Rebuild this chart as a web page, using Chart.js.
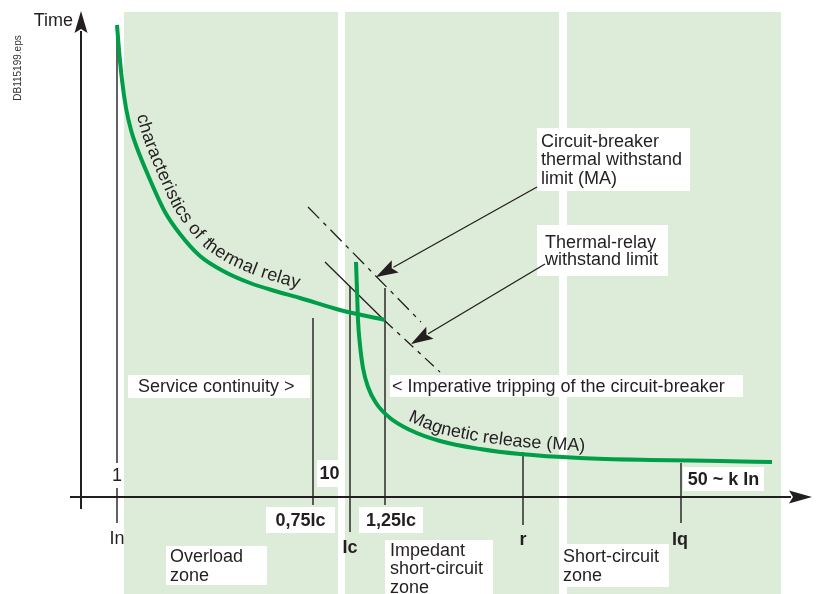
<!DOCTYPE html>
<html>
<head>
<meta charset="utf-8">
<script src="https://cdn.jsdelivr.net/npm/chart.js@4/dist/chart.umd.min.js"></script>
<style>
  html, body { margin: 0; padding: 0; background: #fff; }
  canvas { display: block; }
</style>
</head>
<body>
<canvas id="diagram" width="816" height="594"></canvas>
<script>
// Schematic values (x = relative current, y = relative time)
const zoneNames = ['Overload zone', 'Impedant short-circuit zone', 'Short-circuit zone'];
const zoneStart = [43, 264, 486];
const zoneEnd = [257, 478, 700];
const zoneTop = 485;

const markerNames = ['In', '0,75Ic', 'Ic', '1,25Ic', 'r', 'Iq'];
const markerX = [36, 232, 269, 304, 442, 600];
const markerTop = [472, 179, 211, 209, 45, 34];
const markerBottom = [-26, -8, -35, -8, -28, -26];

const multipleLabels = ['1', '10', '50 ~ k In'];

// characteristics of thermal relay
const thermalX = [36, 38, 41, 45, 50, 56, 67, 84, 99, 119, 144, 169, 194, 219, 259, 304];
const thermalY = [472, 447, 417, 389, 367, 349, 322, 285, 263, 241, 225, 214, 206, 199, 187, 177];

// magnetic release (MA)
const magneticX = [275, 276, 277, 279, 282, 287, 295, 309, 329, 359, 399, 439, 499, 569, 639, 691];
const magneticY = [235, 207, 177, 152, 129, 110, 94, 79, 67, 56, 48, 43, 39, 37, 36, 35];

// withstand limits (dash-dot lines)
const breakerLimitX = [227, 340];
const breakerLimitY = [290, 175];
const relayLimitX = [244, 303, 359];
const relayLimitY = [235, 177, 125];

// pointer arrows: circuit-breaker limit, thermal-relay limit
const arrowFromX = [456, 464];
const arrowFromY = [310, 233];
const arrowToX = [295, 330];
const arrowToY = [220, 153];

const GREEN = '#009e49';
const ZONE = '#ddebd9';
const INK = '#231f20';
const FONT = '"Liberation Sans", Arial, Helvetica, sans-serif';

function pts(xs, ys) {
    return xs.map((x, i) => ({ x: x, y: ys[i] }));
}

// boxed notes (box = [left, top, right, bottom] in chart units)
const notes = [
    { lines: ['Circuit-breaker', 'thermal withstand', 'limit (MA)'], box: [456, 369, 609, 306], padX: 4, lh: 18.5 },
    { lines: ['Thermal-relay', 'withstand limit'], box: [456, 272, 587, 221], padX: 8, lh: 17.5 },
    { lines: ['Service continuity >'], box: [47, 122, 229, 99], padX: 10 },
    { lines: ['< Imperative tripping of the circuit-breaker'], box: [309, 122, 662, 100], padX: 2 },
    { lines: [multipleLabels[0]], box: [30, 34, 42, 9], center: true },
    { lines: [multipleLabels[1]], box: [236, 37, 261, 10], center: true, bold: true },
    { lines: [multipleLabels[2]], box: [602, 30, 683, 6], center: true, bold: true },
    { lines: [markerNames[1]], box: [185, -10, 254, -36], center: true, bold: true },
    { lines: [markerNames[3]], box: [278, -10, 342, -36], center: true, bold: true },
    { lines: ['Overload', 'zone'], box: [85, -49, 186, -88], padX: 4, lh: 19 },
    { lines: ['Impedant', 'short-circuit', 'zone'], box: [304, -43, 412, -100], padX: 5, lh: 18.5 },
    { lines: ['Short-circuit', 'zone'], box: [478, -47, 588, -90], padX: 4, lh: 19 }
];

// plain labels under the axis
const plainLabels = [
    { text: markerNames[0], x: 36, y: -42, bold: false },
    { text: markerNames[2], x: 269, y: -51, bold: true },
    { text: markerNames[4], x: 442, y: -43, bold: true },
    { text: markerNames[5], x: 599, y: -43, bold: true }
];

function toPx(chart, x, y) {
    return { x: chart.scales.x.getPixelForValue(x), y: chart.scales.y.getPixelForValue(y) };
}

function arrowHead(ctx, from, to, len, half) {
    const dx = to.x - from.x, dy = to.y - from.y;
    const L = Math.hypot(dx, dy);
    const ux = dx / L, uy = dy / L;
    const bx = to.x - ux * len, by = to.y - uy * len;
    ctx.beginPath();
    ctx.moveTo(from.x, from.y);
    ctx.lineTo(bx + ux * 2, by + uy * 2);
    ctx.stroke();
    ctx.beginPath();
    ctx.moveTo(to.x, to.y);
    ctx.lineTo(bx - uy * half, by + ux * half);
    ctx.lineTo(bx + ux * 4, by + uy * 4);
    ctx.lineTo(bx + uy * half, by - ux * half);
    ctx.closePath();
    ctx.fill();
}

// draw text following a polyline, baseline offset to the left-hand normal
function textOnPath(ctx, text, path, offset, startAt, spacing) {
    const off = path.map((p, i) => {
        const a = path[Math.max(i - 1, 0)], b = path[Math.min(i + 1, path.length - 1)];
        const dx = b.x - a.x, dy = b.y - a.y, L = Math.hypot(dx, dy);
        return { x: p.x + dy / L * offset, y: p.y - dx / L * offset };
    });
    const cum = [0];
    for (let i = 1; i < off.length; i++) {
        cum.push(cum[i - 1] + Math.hypot(off[i].x - off[i - 1].x, off[i].y - off[i - 1].y));
    }
    function at(s) {
        let i = 1;
        while (i < off.length - 1 && cum[i] < s) i++;
        const t = (s - cum[i - 1]) / (cum[i] - cum[i - 1]);
        return { x: off[i - 1].x + (off[i].x - off[i - 1].x) * t, y: off[i - 1].y + (off[i].y - off[i - 1].y) * t };
    }
    let s = startAt;
    for (const ch of text) {
        const w = ctx.measureText(ch).width;
        const p0 = at(s), p1 = at(s + w);
        const ang = Math.atan2(p1.y - p0.y, p1.x - p0.x);
        ctx.save();
        ctx.translate(p0.x, p0.y);
        ctx.rotate(ang);
        ctx.fillText(ch, 0, 0);
        ctx.restore();
        s += w + (spacing || 0);
    }
}

const diagramPlugin = {
    id: 'diagram',
    beforeDatasetsDraw(chart) {
        const ctx = chart.ctx;
        ctx.save();
        // zones
        ctx.fillStyle = ZONE;
        for (let i = 0; i < zoneNames.length; i++) {
            const a = toPx(chart, zoneStart[i], zoneTop);
            const b = toPx(chart, zoneEnd[i], chart.scales.y.min);
            ctx.fillRect(a.x, a.y, b.x - a.x, b.y - a.y);
        }
        // axes
        ctx.strokeStyle = INK;
        ctx.fillStyle = INK;
        ctx.lineWidth = 2;
        const yTop = toPx(chart, 0, 486), yBot = toPx(chart, 0, -12);
        const xL = toPx(chart, -11, 0), xR = toPx(chart, 731, 0);
        arrowHead(ctx, yBot, yTop, 22, 6.5);
        arrowHead(ctx, xL, xR, 23, 6.5);
        ctx.restore();
    },
    afterDatasetsDraw(chart) {
        const ctx = chart.ctx;
        ctx.save();
        ctx.fillStyle = INK;
        ctx.font = '18px ' + FONT;
        ctx.textBaseline = 'alphabetic';
        ctx.textAlign = 'left';

        // curved captions
        textOnPath(ctx, 'characteristics of thermal relay',
            pts(thermalX, thermalY).map(p => toPx(chart, p.x, p.y)), 9, 92, 0.3);
        textOnPath(ctx, 'Magnetic release (MA)',
            pts(magneticX, magneticY).map(p => toPx(chart, p.x, p.y)), 7, 174, 0);

        // boxed notes
        ctx.textBaseline = 'middle';
        notes.forEach(n => {
            const a = toPx(chart, n.box[0], n.box[1]);
            const b = toPx(chart, n.box[2], n.box[3]);
            ctx.fillStyle = '#fff';
            ctx.fillRect(a.x, a.y, b.x - a.x, b.y - a.y);
            ctx.fillStyle = INK;
            ctx.font = (n.bold ? 'bold ' : '') + '18px ' + FONT;
            const lh = n.lh || 18;
            const y0 = a.y + (b.y - a.y - lh * n.lines.length) / 2 + lh / 2 + 1;
            n.lines.forEach((t, i) => {
                if (n.center) {
                    ctx.textAlign = 'center';
                    ctx.fillText(t, (a.x + b.x) / 2, y0 + i * lh);
                } else {
                    ctx.textAlign = 'left';
                    ctx.fillText(t, a.x + n.padX, y0 + i * lh);
                }
            });
        });

        // labels under the axis
        ctx.textAlign = 'center';
        plainLabels.forEach(l => {
            const p = toPx(chart, l.x, l.y);
            ctx.font = (l.bold ? 'bold ' : '') + '18px ' + FONT;
            ctx.fillText(l.text, p.x, p.y);
        });

        // pointer arrows
        ctx.strokeStyle = INK;
        ctx.lineWidth = 1.3;
        for (let i = 0; i < arrowFromX.length; i++) {
            arrowHead(ctx, toPx(chart, arrowFromX[i], arrowFromY[i]), toPx(chart, arrowToX[i], arrowToY[i]), 22, 7);
        }

        // axis title
        ctx.font = '18px ' + FONT;
        ctx.textAlign = 'right';
        ctx.textBaseline = 'alphabetic';
        const tp = toPx(chart, -8, 471);
        ctx.fillText('Time', tp.x, tp.y);

        // drawing reference
        ctx.font = '10px ' + FONT;
        ctx.fillStyle = '#333';
        ctx.textAlign = 'center';
        ctx.textBaseline = 'middle';
        ctx.translate(18, 68);
        ctx.rotate(-Math.PI / 2);
        ctx.fillText('DB115199.eps', 0, 0);
        ctx.restore();
    }
};

const datasets = [
    {
        label: 'characteristics of thermal relay',
        data: pts(thermalX, thermalY),
        borderColor: GREEN, borderWidth: 4, cubicInterpolationMode: 'monotone', order: 0
    },
    {
        label: 'Magnetic release (MA)',
        data: pts(magneticX, magneticY),
        borderColor: GREEN, borderWidth: 4, cubicInterpolationMode: 'monotone', order: 0
    },
    {
        label: 'Circuit-breaker thermal withstand limit (MA)',
        data: pts(breakerLimitX, breakerLimitY),
        borderColor: INK, borderWidth: 1.3, borderDash: [16, 6, 4, 6], order: 1
    },
    {
        label: 'Thermal-relay withstand limit',
        data: pts(relayLimitX.slice(0, 2), relayLimitY.slice(0, 2)),
        borderColor: INK, borderWidth: 1.3, order: 1
    },
    {
        label: 'Thermal-relay withstand limit (beyond)',
        data: pts(relayLimitX.slice(1), relayLimitY.slice(1)),
        borderColor: INK, borderWidth: 1.3, borderDash: [12, 6, 4, 6], order: 1
    }
];

markerNames.forEach((name, i) => {
    datasets.push({
        label: name,
        data: [{ x: markerX[i], y: markerTop[i] }, { x: markerX[i], y: markerBottom[i] }],
        borderColor: INK, borderWidth: 1.4, order: 2
    });
});

datasets.forEach(d => {
    d.showLine = true;
    d.pointRadius = 0;
    d.fill = false;
    d.clip = false;
    d.borderCapStyle = 'butt';
});

new Chart(document.getElementById('diagram').getContext('2d'), {
    type: 'scatter',
    data: { datasets: datasets },
    options: {
        responsive: false,
        animation: false,
        devicePixelRatio: 1,
        events: [],
        layout: { padding: 0 },
        scales: {
            x: { type: 'linear', min: -81, max: 735, display: false },
            y: { type: 'linear', min: -97, max: 497, display: false }
        },
        plugins: {
            legend: { display: false },
            tooltip: { enabled: false }
        }
    },
    plugins: [diagramPlugin]
});
</script>
</body>
</html>
